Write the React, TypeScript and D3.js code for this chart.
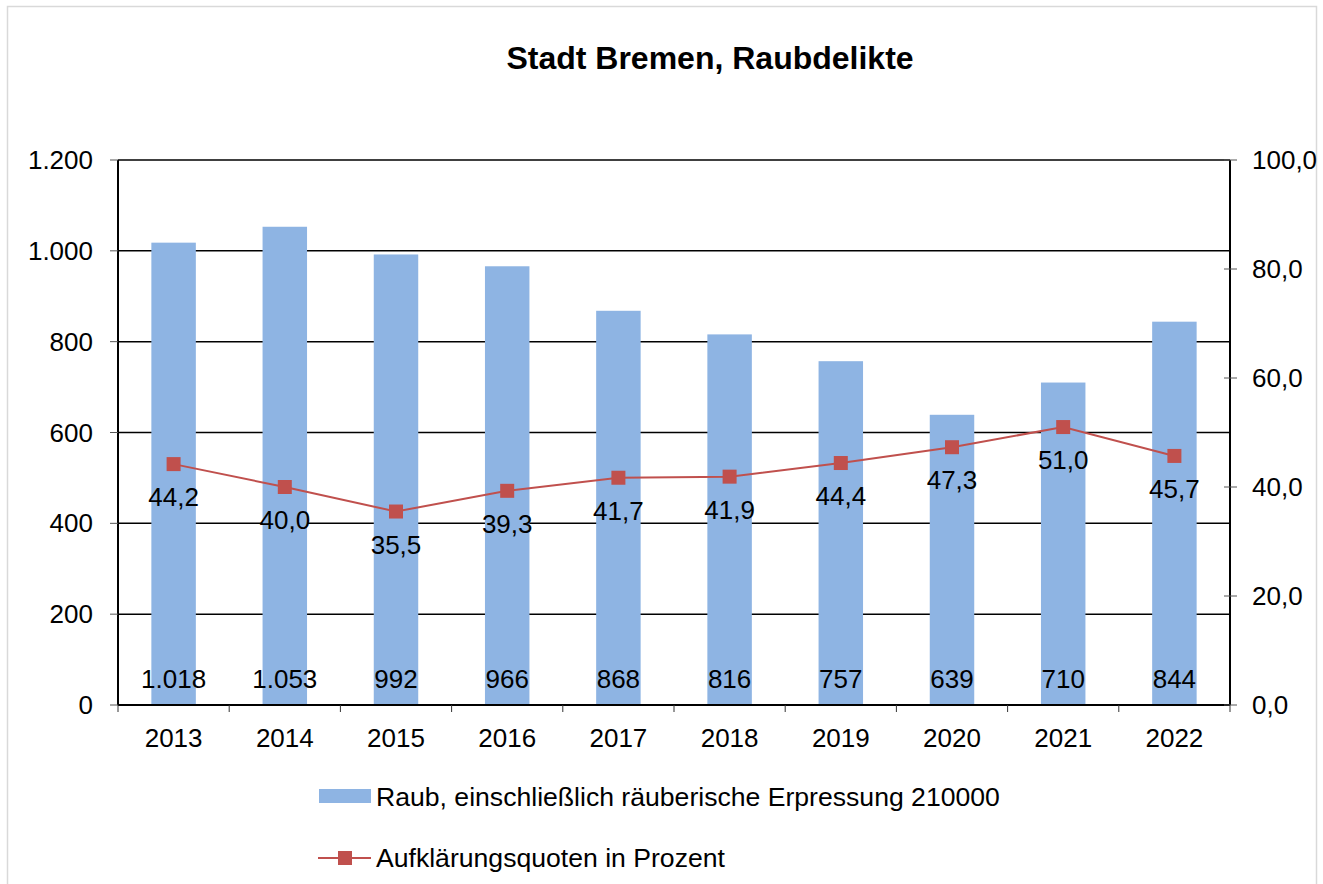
import React from "react";
import * as d3 from "d3";

const years = ["2013", "2014", "2015", "2016", "2017", "2018", "2019", "2020", "2021", "2022"];
const raub = [1018, 1053, 992, 966, 868, 816, 757, 639, 710, 844];
const quote = [44.2, 40.0, 35.5, 39.3, 41.7, 41.9, 44.4, 47.3, 51.0, 45.7];
const leftTicks = [0, 200, 400, 600, 800, 1000, 1200];
const rightTicks = [0, 20, 40, 60, 80, 100];

const W = 1323, H = 884;
const M = { left: 118, right: 1230, top: 160, bottom: 705 };
const FONT = "'Liberation Sans', Arial, sans-serif";
const BAR = "#8EB4E3";
const LINE = "#C0504D";
const FS = 26;
const FS_LEG = 26.6;

const fmtInt = (v: number) => d3.format(",")(v).replace(/,/g, ".");
const fmtDec = (v: number) => v.toFixed(1).replace(".", ",");

export default function App() {
  const x = d3.scaleBand<string>().domain(years).range([M.left, M.right]).paddingInner(0).paddingOuter(0);
  const yL = d3.scaleLinear().domain([0, 1200]).range([M.bottom, M.top]);
  const yR = d3.scaleLinear().domain([0, 100]).range([M.bottom, M.top]);
  const bw = x.bandwidth() * 0.4;
  const cx = (y: string) => (x(y) as number) + x.bandwidth() / 2;
  const line = d3.line<number>().x((_, i) => cx(years[i])).y((d) => yR(d));

  return (
    <svg width={W} height={H} style={{ position: "absolute", left: 0, top: 0, fontFamily: FONT }}>
      <rect x={0} y={0} width={W} height={H} fill="#fff" />
      <rect x={7.5} y={6.5} width={1309} height={890} fill="#fff" stroke="#d9d9d9" strokeWidth={1.5} />
      <text x={710} y={69} textAnchor="middle" fontSize={32} fontWeight="bold" fill="#000">
        Stadt Bremen, Raubdelikte
      </text>
      {/* gridlines */}
      {leftTicks.map((t) => (
        <line key={"g" + t} x1={M.left} x2={M.right} y1={yL(t)} y2={yL(t)} stroke="#000" strokeWidth={1.5} />
      ))}
      {/* bars */}
      {raub.map((v, i) => (
        <rect key={"b" + i} x={cx(years[i]) - bw / 2} y={yL(v)} width={bw} height={yL(0) - yL(v)} fill={BAR} />
      ))}
      {/* axes */}
      <line x1={M.left} x2={M.left} y1={M.top} y2={M.bottom} stroke="#000" strokeWidth={2} />
      <line x1={M.right} x2={M.right} y1={M.top} y2={M.bottom} stroke="#000" strokeWidth={2} />
      <line x1={M.left} x2={M.right} y1={M.bottom} y2={M.bottom} stroke="#000" strokeWidth={2} />
      {leftTicks.map((t) => (
        <g key={"l" + t}>
          <line x1={M.left - 8} x2={M.left} y1={yL(t)} y2={yL(t)} stroke="#555" strokeWidth={1} />
          <text x={M.left - 25} y={yL(t)} dy="0.35em" textAnchor="end" fontSize={FS} fill="#000">
            {fmtInt(t)}
          </text>
        </g>
      ))}
      {rightTicks.map((t) => (
        <g key={"r" + t}>
          <line x1={M.right - 6} x2={M.right + 7} y1={yR(t)} y2={yR(t)} stroke="#555" strokeWidth={1} />
          <text x={M.right + 22} y={yR(t)} dy="0.35em" textAnchor="start" fontSize={FS} fill="#000">
            {fmtDec(t)}
          </text>
        </g>
      ))}
      {years.map((yv) => (
        <g key={"x" + yv}>
          <line x1={x(yv) as number} x2={x(yv) as number} y1={M.bottom} y2={M.bottom + 7} stroke="#333" strokeWidth={1} />
          <text x={cx(yv)} y={M.bottom + 33} dy="0.35em" textAnchor="middle" fontSize={FS} fill="#000">
            {yv}
          </text>
        </g>
      ))}
      <line x1={M.right} x2={M.right} y1={M.bottom} y2={M.bottom + 7} stroke="#333" strokeWidth={1} />
      {/* bar labels */}
      {raub.map((v, i) => (
        <text key={"bl" + i} x={cx(years[i])} y={679} dy="0.35em" textAnchor="middle" fontSize={FS} fill="#000">
          {fmtInt(v)}
        </text>
      ))}
      {/* line */}
      <path d={line(quote) || ""} fill="none" stroke={LINE} strokeWidth={2} />
      {quote.map((v, i) => (
        <rect key={"m" + i} x={cx(years[i]) - 7} y={yR(v) - 7} width={14} height={14} fill={LINE} />
      ))}
      {quote.map((v, i) => (
        <text key={"ql" + i} x={cx(years[i])} y={yR(v) + 33} dy="0.35em" textAnchor="middle" fontSize={FS} fill="#000">
          {fmtDec(v)}
        </text>
      ))}
      {/* legend */}
      <rect x={319} y={789} width={52} height={14} fill={BAR} />
      <text x={376} y={797} dy="0.35em" fontSize={FS_LEG} fill="#000">
        Raub, einschließlich räuberische Erpressung 210000
      </text>
      <line x1={318} x2={371} y1={858} y2={858} stroke={LINE} strokeWidth={2} />
      <rect x={338} y={851} width={14} height={14} fill={LINE} />
      <text x={376} y={858} dy="0.35em" fontSize={FS_LEG} fill="#000">
        Aufklärungsquoten in Prozent
      </text>
    </svg>
  );
}
